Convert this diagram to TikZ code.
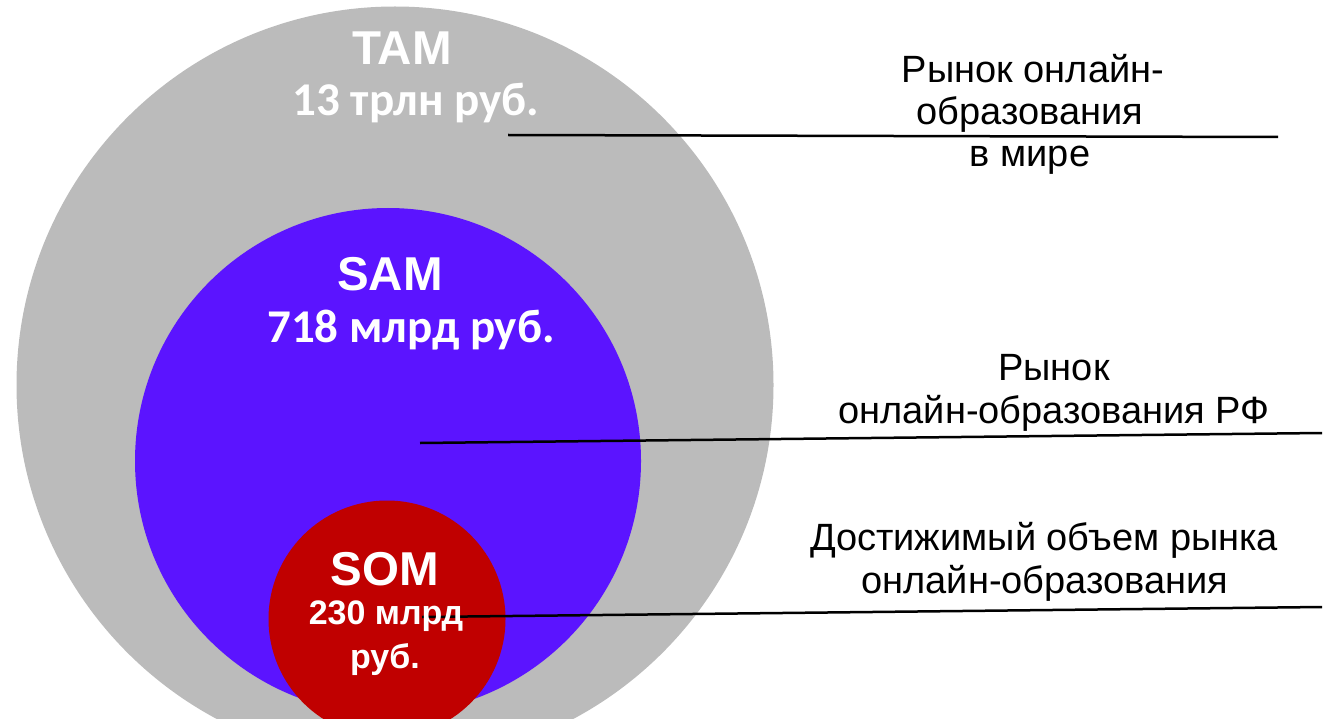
\documentclass[tikz,border=0pt]{standalone}
\usepackage{fontspec}
\setmainfont{Liberation Sans}
\newfontfamily\carl{Carlito}
\definecolor{tamgray}{RGB}{187,187,187}
\definecolor{samblue}{RGB}{91,20,255}
\definecolor{somred}{RGB}{192,0,0}
\tikzset{
  circ/.style={circle, draw=none, inner sep=0pt},
  big/.style={anchor=base, inner sep=0pt, text=white, font=\fontsize{47.5}{50}\selectfont\bfseries},
  num/.style={anchor=base, inner sep=0pt, text=white, font=\fontsize{47}{50}\selectfont\carl\bfseries},
  smallnum/.style={anchor=base, inner sep=0pt, text=white, font=\fontsize{34}{38}\selectfont\bfseries},
  lbl/.style={anchor=base, inner sep=0pt, text=black, font=\fontsize{38}{42}\selectfont},
  leader/.style={draw=black, line width=2.5pt}
}
\begin{document}
\begin{tikzpicture}[x=1pt,y=-1pt]
\useasboundingbox (0,0) rectangle (1332,719);
\clip (0,0) rectangle (1332,719);
% circles
\fill[tamgray] (395,385) circle (378.5);
\fill[samblue] (388,461) circle (253);
\fill[somred] (387,619) circle (118.5);
\node[circ, minimum size=757pt] (tam) at (395,385) {};
\node[circ, minimum size=506pt] (sam) at (388,461) {};
\node[circ, minimum size=237pt] (som) at (387,619) {};
% leader lines
\coordinate (tamA) at (508,135);
\coordinate (tamB) at (1278,137);
\coordinate (samA) at (420,443);
\coordinate (samB) at (1322,433);
\coordinate (somA) at (422,617);
\coordinate (somB) at (1322,607);
\draw[leader] (tamA) -- (tamB);
\draw[leader] (samA) -- (samB);
\draw[leader] (somA) -- (somB);
% circle texts
\node[big] (tamt) at (402,65) {TAM};
\node[num] (tamv) at (416,116) {13 трлн руб.};
\node[big] (samt) at (390,290) {SAM};
\node[num] (samv) at (411,342) {718 млрд руб.};
\node[big] (somt) at (385,585) {SOM};
\node[smallnum] (somv1) at (386,624) {230 млрд};
\node[smallnum] (somv2) at (385,668) {руб.};
% right labels
\node[lbl] (t1) at (1033,83) {Рынок онлайн-};
\node[lbl] (t2) at (1030,125) {образования};
\node[lbl] (t3) at (1030,167) {в мире};
\node[lbl] (s1) at (1054,380) {Рынок};
\node[lbl] (s2) at (1054,423) {онлайн-образования РФ};
\node[lbl] (o1) at (1044,550) {Достижимый объем рынка};
\node[lbl] (o2) at (1045,593) {онлайн-образования};
\end{tikzpicture}
\end{document}
